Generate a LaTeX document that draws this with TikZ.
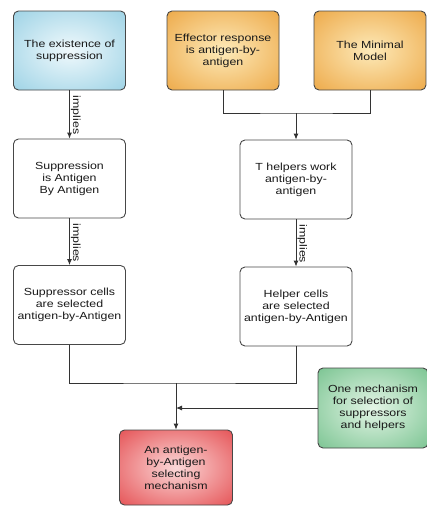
\documentclass[tikz,border=0pt]{standalone}
\usepackage{fontspec}
\setmainfont{Liberation Sans}[FakeStretch=1.2]
\usetikzlibrary{arrows.meta}

% soft radial glows for the coloured boxes
\definecolor{bOut}{RGB}{130,198,222}
\definecolor{bIn}{RGB}{240,249,252}
\definecolor{oOut}{RGB}{232,148,36}
\definecolor{oIn}{RGB}{253,234,185}
\definecolor{gOut}{RGB}{88,180,118}
\definecolor{gIn}{RGB}{228,245,230}
\definecolor{rOut}{RGB}{222,38,42}
\definecolor{rIn}{RGB}{251,216,216}
\pgfdeclareradialshading{bluebox}{\pgfpoint{0bp}{0bp}}{color(0bp)=(bIn); color(48bp)=(bOut); color(80bp)=(bOut)}
\pgfdeclareradialshading{orangebox}{\pgfpoint{0bp}{0bp}}{color(0bp)=(oIn); color(48bp)=(oOut); color(80bp)=(oOut)}
\pgfdeclareradialshading{greenbox}{\pgfpoint{0bp}{0bp}}{color(0bp)=(gIn); color(48bp)=(gOut); color(80bp)=(gOut)}
\pgfdeclareradialshading{redbox}{\pgfpoint{0bp}{0bp}}{color(0bp)=(rIn); color(48bp)=(rOut); color(80bp)=(rOut)}

\tikzset{
  stepbox/.style={draw=black!72, line width=0.9pt, rounded corners=5pt,
    minimum width=112pt, minimum height=79pt, align=center, inner sep=1pt,
    font=\fontsize{10.3}{12}\selectfont, text=black!90},
  link/.style={draw=black!80, line width=0.9pt},
  arrow/.style={link, -{Latex[length=6pt,width=5pt]}},
  implieslabel/.style={rotate=-90, font=\fontsize{10.3}{12}\selectfont,
    anchor=south west, inner sep=1pt, text=black!90}
}

\begin{document}
\begin{tikzpicture}[x=1pt,y=-1pt]
\useasboundingbox (0,0) rectangle (427,509);
\fill[white] (0,0) rectangle (427,509);

% top row
\node[stepbox, shading=bluebox] (exist) at (69.5,50.5) {The existence of\\suppression};
\node[stepbox, shading=orangebox] (effector) at (223,50.5) {Effector response\\is antigen-by-\\antigen};
\node[stepbox, shading=orangebox] (minimal) at (370,50.5) {The Minimal\\Model};

% middle row
\node[stepbox] (suppag) at (69.5,178.5) {Suppression\\is Antigen\\By Antigen};
\node[stepbox] (thelp) at (296,179.5) {T helpers work\\antigen-by-\\antigen};

% lower row
\node[stepbox] (suppcell) at (69.5,305) {Suppressor cells\\are selected\\antigen-by-Antigen};
\node[stepbox] (helpcell) at (296,306.5) {Helper cells\\are selected\\antigen-by-Antigen};

% result and side condition
\node[stepbox, shading=redbox, minimum width=113pt, minimum height=75pt] (result) at (176,467.5) {An antigen-\\by-Antigen\\selecting\\mechanism};
\node[stepbox, shading=greenbox, minimum width=110pt, minimum height=80pt] (onemech) at (373,408) {One mechanism\\for selection of\\suppressors\\and helpers};

% junction points
\coordinate (topjoin) at (296,113);
\coordinate (botjoin) at (176,383);

% left chain of implications
\draw[arrow] (exist.south) -- node[implieslabel, pos=0.08] {implies} (suppag.north);
\draw[arrow] (suppag.south) -- node[implieslabel, pos=0.08] {implies} (suppcell.north);

% right chain
\draw[link] (effector.south) |- (topjoin) -| (minimal.south);
\draw[arrow] (topjoin) -- (thelp.north);
\draw[arrow] (thelp.south) -- node[implieslabel, pos=0.08] {implies} (helpcell.north);

% merge into the result
\draw[link] (suppcell.south) |- (botjoin) -| (helpcell.south);
\draw[arrow] (botjoin) -- (result.north);
\draw[arrow] (onemech.west) -- (onemech.west -| botjoin);
\end{tikzpicture}
\end{document}
